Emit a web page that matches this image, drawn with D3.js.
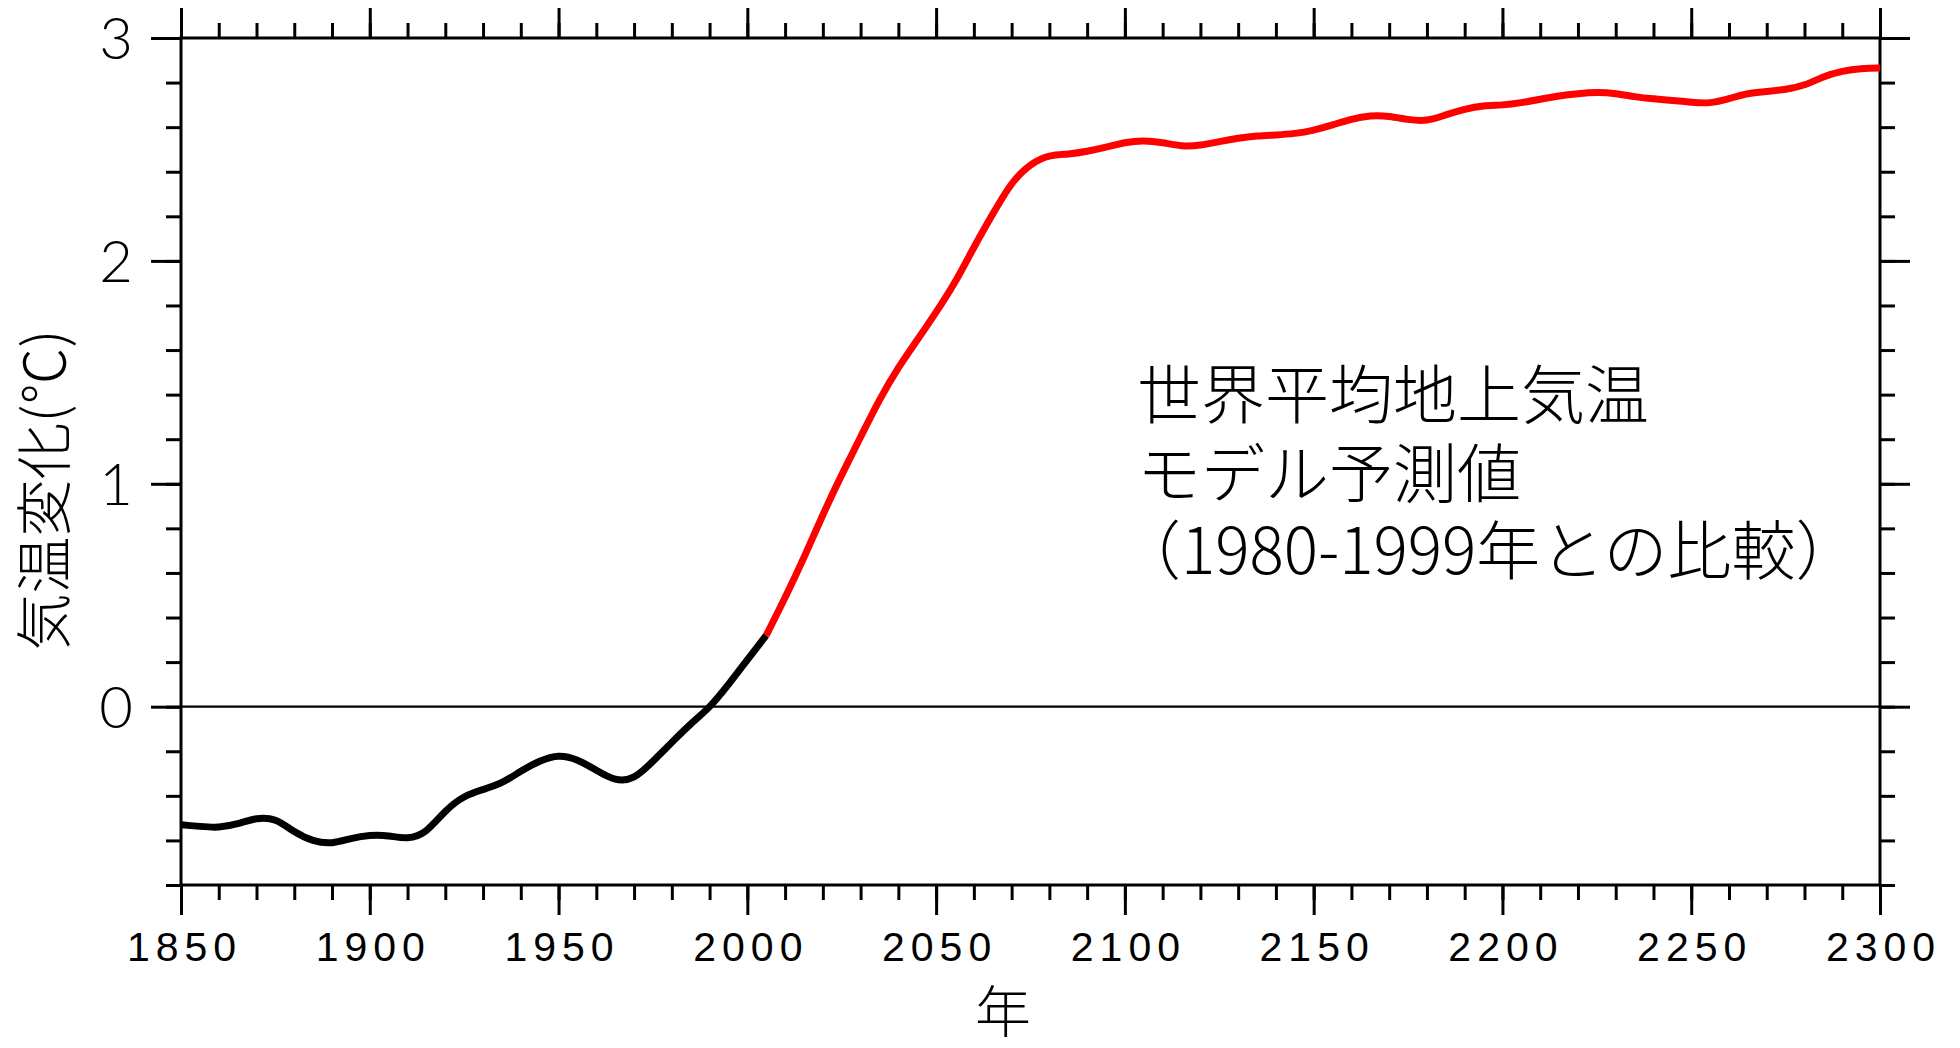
<!DOCTYPE html>
<html>
<head>
<meta charset="utf-8">
<script src="https://cdn.jsdelivr.net/npm/d3@7"></script>
<style>
  html, body { margin: 0; padding: 0; background: #fff; }
  svg { display: block; }
</style>
</head>
<body>
<svg id="chart" width="1960" height="1048"></svg>
<script>
// ---- Data ----
const obsYears = [1850,1855,1860,1865,1870,1875,1880,1885,1890,1895,1900,1905,1910,1915,1920,1925,1930,1935,1940,1945,1950,1955,1960,1965,1970,1975,1980,1985,1990,1995,2000,2005];
const obsValues = [-0.53,-0.537,-0.54,-0.525,-0.503,-0.51,-0.56,-0.60,-0.61,-0.592,-0.578,-0.58,-0.588,-0.555,-0.47,-0.405,-0.372,-0.34,-0.29,-0.245,-0.222,-0.24,-0.285,-0.325,-0.315,-0.245,-0.16,-0.078,0.0,0.10,0.21,0.32];

const projYears = [2005,2010,2015,2020,2025,2030,2035,2040,2045,2050,2055,2060,2065,2070,2075,2080,2085,2090,2095,2100,2105,2110,2115,2120,2125,2130,2135,2140,2145,2150,2155,2160,2165,2170,2175,2180,2185,2190,2195,2200,2205,2210,2215,2220,2225,2230,2235,2240,2245,2250,2255,2260,2265,2270,2275,2280,2285,2290,2295,2300];
const projValues = [0.32,0.49,0.67,0.86,1.04,1.21,1.375,1.52,1.645,1.77,1.905,2.06,2.21,2.345,2.43,2.47,2.48,2.492,2.51,2.53,2.538,2.53,2.517,2.52,2.535,2.55,2.56,2.565,2.572,2.587,2.61,2.635,2.65,2.648,2.635,2.632,2.655,2.68,2.695,2.70,2.71,2.725,2.74,2.75,2.755,2.75,2.737,2.727,2.72,2.712,2.71,2.728,2.75,2.76,2.77,2.79,2.825,2.85,2.862,2.865];

const xMajorTicks = [1850,1900,1950,2000,2050,2100,2150,2200,2250,2300];
const yMajorTicks = [0,1,2,3];
const xTitle = "年";
const yTitle = "気温変化(℃)";
const noteLines = ["世界平均地上気温", "モデル予測値", "（1980-1999年との比較）"];

// ---- Layout ----
const L = 181, R = 1880, T = 38, B = 885;
const svg = d3.select("#chart");

const x = d3.scaleLinear().domain([1850, 2300]).range([L, R]);
const y = d3.scaleLinear().domain([-0.8, 3]).range([B, T]);

const xMinor = d3.range(1850, 2301, 10);
const yMinor = d3.range(-8, 31, 2).map(d => +(d / 10).toFixed(1));

function styleAxis(g) {
  g.select(".domain").remove();
  g.selectAll(".tick line").attr("stroke", "#000").attr("stroke-width", 3);
}

// minor ticks
svg.append("g").attr("transform", `translate(0,${B})`)
  .call(d3.axisBottom(x).tickValues(xMinor).tickSize(15).tickFormat(""))
  .call(styleAxis);
svg.append("g").attr("transform", `translate(0,${T})`)
  .call(d3.axisTop(x).tickValues(xMinor).tickSize(15).tickFormat(""))
  .call(styleAxis);
svg.append("g").attr("transform", `translate(${L},0)`)
  .call(d3.axisLeft(y).tickValues(yMinor).tickSize(15).tickFormat(""))
  .call(styleAxis);
svg.append("g").attr("transform", `translate(${R},0)`)
  .call(d3.axisRight(y).tickValues(yMinor).tickSize(15).tickFormat(""))
  .call(styleAxis);

// major ticks
const xb = svg.append("g").attr("transform", `translate(0,${B})`)
  .call(d3.axisBottom(x).tickValues(xMajorTicks).tickSize(30).tickPadding(0).tickFormat(d3.format("d")))
  .call(styleAxis);
xb.selectAll(".tick text")
  .attr("y", 76).attr("dy", 0).attr("dx", 3)
  .attr("fill", "#000")
  .style("font-family", "'Liberation Sans', Arial, sans-serif")
  .style("font-size", "41px")
  .style("letter-spacing", "6px");

svg.append("g").attr("transform", `translate(0,${T})`)
  .call(d3.axisTop(x).tickValues(xMajorTicks).tickSize(30).tickFormat(""))
  .call(styleAxis);

const yl = svg.append("g").attr("transform", `translate(${L},0)`)
  .call(d3.axisLeft(y).tickValues(yMajorTicks).tickSize(30).tickPadding(18).tickFormat(d3.format("d")))
  .call(styleAxis);
yl.selectAll(".tick text")
  .attr("dy", "0.36em")
  .attr("fill", "#000")
  .style("font-family", "Lato, 'Noto Sans', sans-serif")
  .style("font-weight", 300)
  .style("font-size", "58px");

svg.append("g").attr("transform", `translate(${R},0)`)
  .call(d3.axisRight(y).tickValues(yMajorTicks).tickSize(30).tickFormat(""))
  .call(styleAxis);

// zero line
svg.append("line")
  .attr("x1", L).attr("x2", R).attr("y1", y(0)).attr("y2", y(0))
  .attr("stroke", "#000").attr("stroke-width", 2.2);

// frame
svg.append("rect")
  .attr("x", L).attr("y", T).attr("width", R - L).attr("height", B - T)
  .attr("fill", "none").attr("stroke", "#000").attr("stroke-width", 3);

// lines
const line = d3.line().x(d => x(d[0])).y(d => y(d[1])).curve(d3.curveNatural);
svg.append("path")
  .datum(obsYears.map((yr, i) => [yr, obsValues[i]]))
  .attr("d", line).attr("fill", "none").attr("stroke", "#000")
  .attr("stroke-width", 7).attr("stroke-linejoin", "round");
svg.append("path")
  .datum(projYears.map((yr, i) => [yr, projValues[i]]))
  .attr("d", line).attr("fill", "none").attr("stroke", "#ff0000")
  .attr("stroke-width", 7).attr("stroke-linejoin", "round");

// axis titles
const cjk = "'Noto Sans CJK JP', 'Noto Sans', sans-serif";
svg.append("text")
  .attr("x", 1003).attr("y", 1032)
  .attr("text-anchor", "middle")
  .style("font-family", cjk).style("font-weight", 300).style("font-size", "56px")
  .text(xTitle);

svg.append("text")
  .attr("transform", "translate(44,490) rotate(-90)")
  .attr("text-anchor", "middle").attr("dy", "0.36em")
  .style("font-family", cjk).style("font-weight", 300).style("font-size", "57px")
  .text(yTitle);

// annotation (one text block, three lines)
const noteY = [418, 497, 574];
const noteX = [1137, 1137, 1117];
const note = svg.append("text")
  .style("font-family", cjk).style("font-weight", 300).style("font-size", "64px");
noteLines.forEach((t, i) => {
  note.append("tspan").attr("x", noteX[i]).attr("y", noteY[i]).text(t);
});
</script>
</body>
</html>
